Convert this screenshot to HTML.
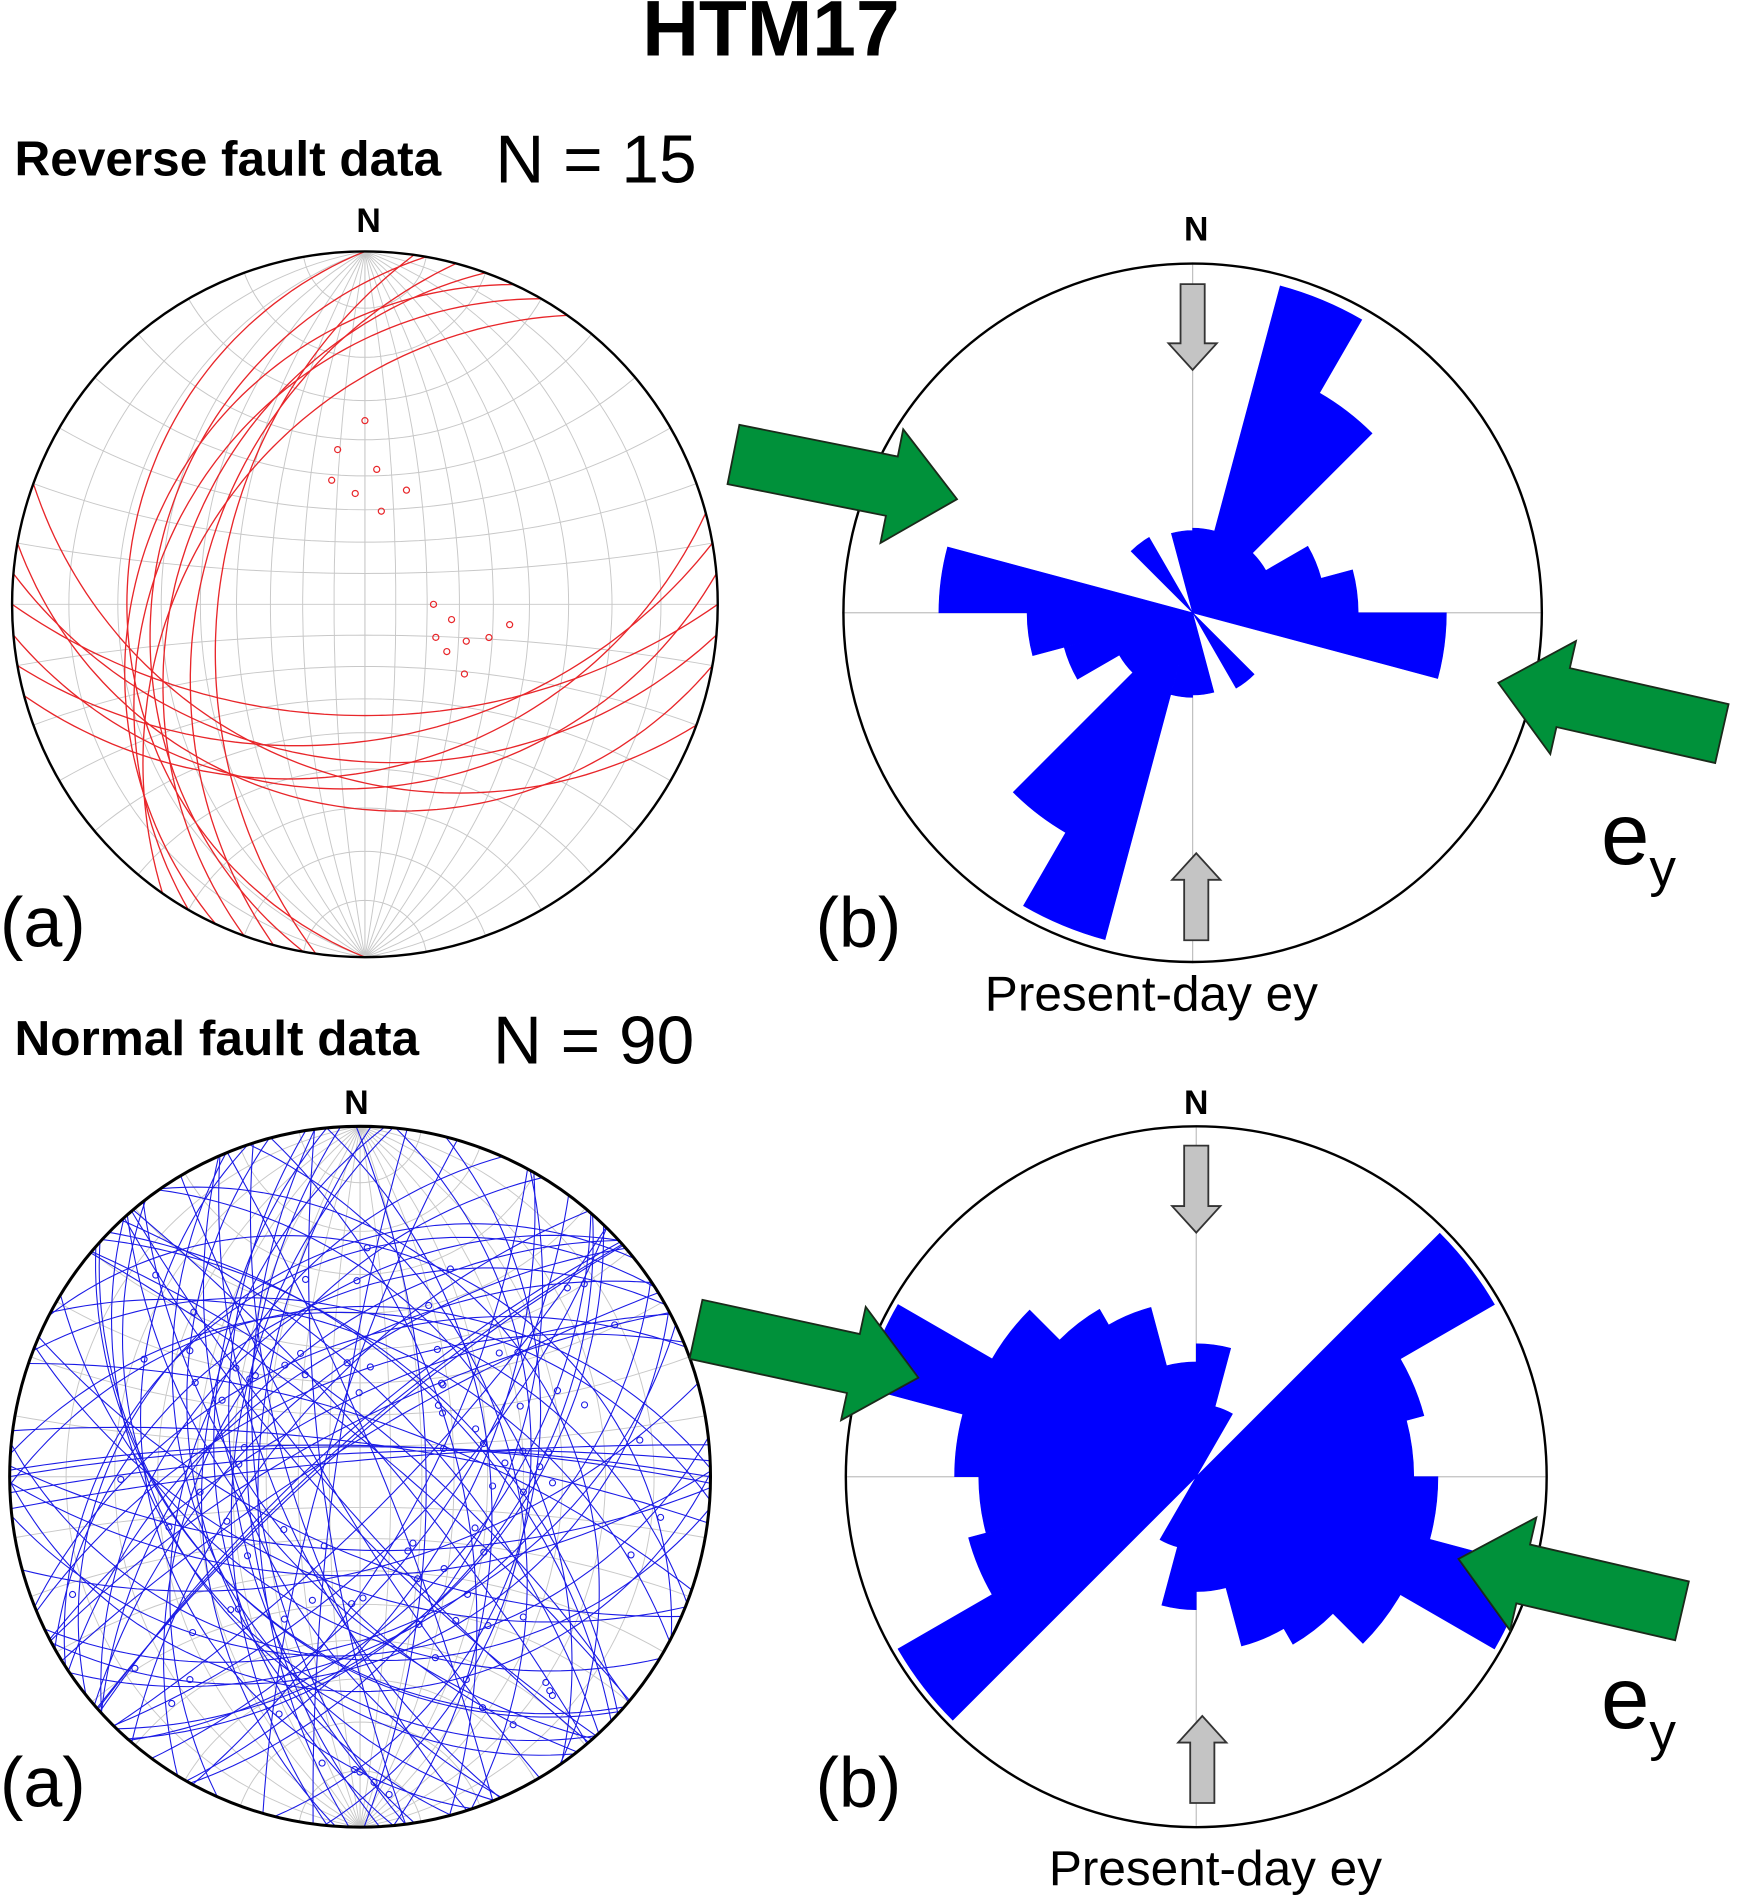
<!DOCTYPE html>
<html><head><meta charset="utf-8"><style>
html,body{margin:0;padding:0;background:#fff;}
svg{display:block;}
text{font-family:"Liberation Sans",sans-serif;}
</style></head><body>
<svg id="s" width="1740" height="1901" viewBox="0 0 1440 1573" xmlns="http://www.w3.org/2000/svg">
<defs>
<clipPath id="c1"><circle cx="302" cy="500" r="292"/></clipPath>
<clipPath id="c2"><circle cx="298" cy="1222" r="290"/></clipPath>
</defs>
<text x="638" y="46" font-size="65" font-weight="bold" text-anchor="middle">HTM17</text>
<text x="12" y="145" font-size="41" font-weight="bold">Reverse fault data</text>
<text x="410" y="151" font-size="56">N = 15</text>
<text x="12" y="873" font-size="41" font-weight="bold">Normal fault data</text>
<text x="408" y="880" font-size="56">N = 90</text>
<text x="305" y="192" font-size="28" font-weight="bold" text-anchor="middle">N</text>
<text x="990" y="199" font-size="28" font-weight="bold" text-anchor="middle">N</text>
<text x="295" y="922" font-size="28" font-weight="bold" text-anchor="middle">N</text>
<text x="990" y="922" font-size="28" font-weight="bold" text-anchor="middle">N</text>
<g id="net1" clip-path="url(#c1)"></g>
<g id="net2" clip-path="url(#c2)"></g>
<g id="rose"></g>
<circle cx="302" cy="500" r="292" fill="none" stroke="#000" stroke-width="2"/>
<circle cx="298" cy="1222" r="290" fill="none" stroke="#000" stroke-width="2.5"/>
<circle cx="987" cy="507" r="289" fill="none" stroke="#000" stroke-width="2"/>
<circle cx="990" cy="1222" r="290" fill="none" stroke="#000" stroke-width="2"/>
<g id="arrows"></g>
<text x="0" y="783" font-size="58">(a)</text>
<text x="675" y="783" font-size="58">(b)</text>
<text x="0" y="1495" font-size="58">(a)</text>
<text x="675" y="1495" font-size="58">(b)</text>
<text x="815" y="836" font-size="41">Present-day ey</text>
<text x="868" y="1560" font-size="41">Present-day ey</text>
<text x="1325" y="715" font-size="72">e<tspan font-size="44" dy="18">y</tspan></text>
<text x="1325" y="1430" font-size="72">e<tspan font-size="44" dy="18">y</tspan></text>
</svg>
<script>
var NS="http://www.w3.org/2000/svg";
function el(p,t,a){var e=document.createElementNS(NS,t);for(var k in a)e.setAttribute(k,a[k]);document.getElementById(p).appendChild(e);return e;}
var D=Math.PI/180;
function proj(cx,cy,R,v){var n=v[0],e=v[1],d=v[2];if(d<0){n=-n;e=-e;d=-d;}var pl=Math.asin(Math.min(1,d));var tr=Math.atan2(e,n);var r=R*Math.tan((Math.PI/2-pl)/2);return [cx+r*Math.sin(tr),cy-r*Math.cos(tr)];}
function pathOf(pts){return "M"+pts.map(function(p){return p[0].toFixed(1)+","+p[1].toFixed(1)}).join("L");}
function plane(cx,cy,R,dd,dip){var s=(dd-90)*D,d=dd*D,dp=dip*D;var S=[Math.cos(s),Math.sin(s),0],Dv=[Math.cos(dp)*Math.cos(d),Math.cos(dp)*Math.sin(d),Math.sin(dp)];var pts=[];for(var i=0;i<=90;i++){var a=i*Math.PI/90;pts.push(proj(cx,cy,R,[Math.cos(a)*S[0]+Math.sin(a)*Dv[0],Math.cos(a)*S[1]+Math.sin(a)*Dv[1],Math.cos(a)*S[2]+Math.sin(a)*Dv[2]]));}return pts;}
function grid(g,cx,cy,R){for(var k=10;k<180;k+=10){var dd=k<=90?90:270,dip=k<=90?k:180-k;el(g,"path",{d:pathOf(plane(cx,cy,R,dd,dip)),fill:"none",stroke:"#c8c8c8","stroke-width":0.8});}
for(var b=10;b<180;b+=10){if(b==90)continue;var pts=[];for(var i=0;i<=60;i++){var f=i*Math.PI/60;pts.push(proj(cx,cy,R,[Math.cos(b*D),Math.sin(b*D)*Math.cos(f),Math.sin(b*D)*Math.sin(f)]));}el(g,"path",{d:pathOf(pts),fill:"none",stroke:"#c8c8c8","stroke-width":0.8});}
el(g,"line",{x1:cx-R,y1:cy,x2:cx+R+8,y2:cy,stroke:"#c8c8c8","stroke-width":0.8});el(g,"line",{x1:cx,y1:cy-R,x2:cx,y2:cy+R+8,stroke:"#c8c8c8","stroke-width":0.8});}
function pole(cx,cy,R,dd,dip){var t=(dd+180)*D,p=(90-dip)*D;return proj(cx,cy,R,[Math.cos(p)*Math.cos(t),Math.cos(p)*Math.sin(t),Math.sin(p)]);}
grid("net1",302,500,292);grid("net2",298,1222,290);
var rev=[[270,22],[280,28],[290,34],[300,30],[285,40],[295,25],[305,38],[278,45],[175,35],[185,42],[170,48],[190,30],[165,40],[180,55],[200,38]];
rev.forEach(function(p){el("net1","path",{d:pathOf(plane(302,500,292,p[0],p[1])),fill:"none",stroke:"#e8262a","stroke-width":1.1});var q=pole(302,500,292,p[0],p[1]);el("net1","circle",{cx:q[0],cy:q[1],r:2.5,fill:"none",stroke:"#e8262a","stroke-width":1});});
var seed=7;function rnd(){seed=(seed*16807)%2147483647;return seed/2147483647;}
for(var i=0;i<90;i++){var dd=rnd()*360,dip=25+rnd()*60;el("net2","path",{d:pathOf(plane(298,1222,290,dd,dip)),fill:"none",stroke:"#1a1ae6","stroke-width":0.9});var q=pole(298,1222,290,dd,dip);el("net2","circle",{cx:q[0],cy:q[1],r:2.5,fill:"none",stroke:"#1a1ae6","stroke-width":0.9});}
function rose(cx,cy,rs){el("rose","line",{x1:cx-290,y1:cy,x2:cx+290,y2:cy,stroke:"#c0c0c0","stroke-width":1});el("rose","line",{x1:cx,y1:cy-290,x2:cx,y2:cy+290,stroke:"#c0c0c0","stroke-width":1});
var d="";for(var h=0;h<2;h++)for(var i=0;i<12;i++){var r=rs[i];if(!r)continue;var a1=(h*180+i*15)*D,a2=(h*180+i*15+15)*D;d+="M"+cx+","+cy+"L"+(cx+r*Math.sin(a1)).toFixed(1)+","+(cy-r*Math.cos(a1)).toFixed(1)+"A"+r+","+r+" 0 0 1 "+(cx+r*Math.sin(a2)).toFixed(1)+","+(cy-r*Math.cos(a2)).toFixed(1)+"Z";}
el("rose","path",{d:d,fill:"#0000ff",stroke:"#0000ff","stroke-width":0.5});}
rose(987,507,[70,280,210,70,110,137,210,0,0,72,0,68]);
rose(990,1222,[110,60,0,285,195,180,200,285,195,160,145,95]);
function green(tx,ty,hx,hy){var dx=hx-tx,dy=hy-ty,L=Math.hypot(dx,dy),ux=dx/L,uy=dy/L,nx=-uy,ny=ux,bw=25,hw=48,hl=55;var bx=hx-ux*hl,by=hy-uy*hl;var P=[[tx+nx*bw,ty+ny*bw],[bx+nx*bw,by+ny*bw],[bx+nx*hw,by+ny*hw],[hx,hy],[bx-nx*hw,by-ny*hw],[bx-nx*bw,by-ny*bw],[tx-nx*bw,ty-ny*bw]];el("arrows","polygon",{points:P.map(function(p){return p.join(",")}).join(" "),fill:"#00913a",stroke:"#1a2a1a","stroke-width":1.5});}
green(607,376,792,413);green(1425,607,1240,565);green(576,1100,760,1140);green(1392,1333,1207,1290);
function gray(x,y0,y1){var dir=y1>y0?1:-1,hl=22*dir,hy=y1-hl;var P=[[x-10,y0],[x+10,y0],[x+10,hy],[x+20,hy],[x,y1],[x-20,hy],[x-10,hy]];el("arrows","polygon",{points:P.map(function(p){return p.join(",")}).join(" "),fill:"#c4c4c4",stroke:"#333","stroke-width":1.5});}
gray(987,235,306);gray(990,778,706);gray(990,948,1020);gray(995,1492,1420);
</script>
</body></html>
